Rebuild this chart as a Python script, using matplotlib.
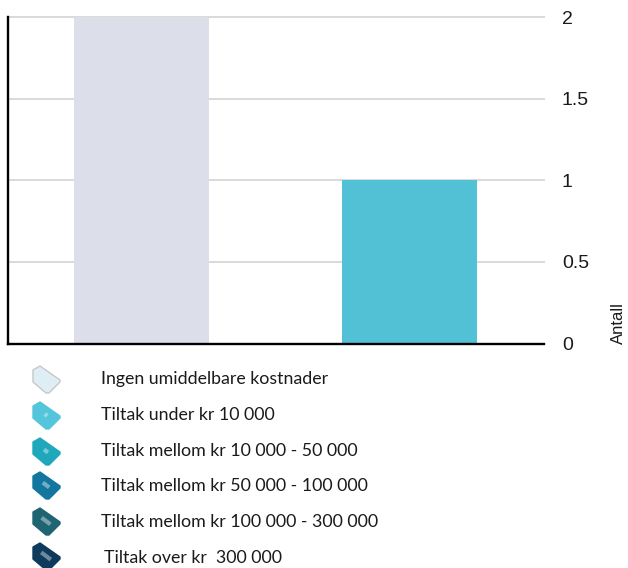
import matplotlib
matplotlib.use("Agg")
import matplotlib.pyplot as plt
from matplotlib.patches import Polygon
from matplotlib.lines import Line2D

# Chart data
categories = ["Ingen umiddelbare kostnader", "Tiltak under kr 10 000"]
counts = [2, 1]
bar_colors = ["#dcdeea", "#52c1d6"]
y_ticks = [0, 0.5, 1, 1.5, 2]
y_tick_labels = ["0", "0.5", "1", "1.5", "2"]
y_label = "Antall"

# Legend content
legend_labels = [
    "Ingen umiddelbare kostnader",
    "Tiltak under kr 10 000",
    "Tiltak mellom kr 10 000 - 50 000",
    "Tiltak mellom kr 50 000 - 100 000",
    "Tiltak mellom kr 100 000 - 300 000",
    "Tiltak over kr  300 000",
]
legend_colors = ["#dfeef4", "#55c5dc", "#1fa8bb", "#13769f", "#1f6473", "#0e3a5c"]
legend_edges = ["#c4c8ca", "#55c5dc", "#1fa8bb", "#13769f", "#1f6473", "#0e3a5c"]
legend_mark_len = [0, 3, 5, 8, 11, 12]

W, H = 628, 568
fig = plt.figure(figsize=(W / 100, H / 100), dpi=100, facecolor="white")
ax = fig.add_axes([8 / W, 1 - 343.5 / H, 536 / W, 326.5 / H])

ax.bar(range(len(categories)), counts, width=0.504, color=bar_colors, zorder=2)
ax.set_xlim(-0.498, 1.502)
ax.set_ylim(0, 2)
ax.set_xticks([])
ax.set_yticks(y_ticks)
ax.set_yticklabels(y_tick_labels, family="Liberation Sans", fontsize=14, color="#1a1a1a")
ax.yaxis.tick_right()
ax.tick_params(axis="y", length=0, pad=12.8)
ax.grid(axis="y", color="#d9d9d9", linewidth=1.4, zorder=1)
for gridline in ax.get_ygridlines():
    gridline.set_clip_on(False)
ax.set_axisbelow(True)

for side in ("top", "right"):
    ax.spines[side].set_visible(False)
for side in ("left", "bottom"):
    ax.spines[side].set_color("black")
    ax.spines[side].set_linewidth(1.7)
    ax.spines[side].set_zorder(3)

fig.text(618.5 / W, 1 - 344 / H, y_label, rotation=90, ha="center", va="bottom",
         family="Liberation Sans", fontsize=12, color="#1a1a1a")


def px(x, y):
    return x / W, 1 - y / H


# Tag-shaped legend keys with the text beside them
tag_outline = [(-13, -9), (-6, -13), (14, 1), (14, 3), (3, 14), (0, 14), (-13, 3)]
icon_y = [379, 415, 451, 485, 521, 556]
text_y = [379, 415, 451, 486, 522, 558]
label_x = [101, 101, 101, 101, 101, 104]
for label, fc, ec, mark, iy, ty_px, lx in zip(legend_labels, legend_colors, legend_edges,
                                              legend_mark_len, icon_y, text_y, label_x):
    pts = [px(46 + dx, iy + dy) for dx, dy in tag_outline]
    fig.add_artist(Polygon(pts, closed=True, facecolor=fc, edgecolor=ec, linewidth=1.0,
                           joinstyle="round", transform=fig.transFigure))
    if mark:
        half = mark / 2
        x0, y0 = px(46 - half * 0.8, iy - half * 0.6)
        x1, y1 = px(46 + half * 0.8, iy + half * 0.6)
        fig.add_artist(Line2D([x0, x1], [y0, y1], color="white", alpha=0.4, linewidth=3,
                              solid_capstyle="butt", transform=fig.transFigure))
    tx, ty = px(lx, ty_px)
    fig.text(tx, ty, label, ha="left", va="center", family="Lato", fontsize=12.75,
             color="#1a1a1a")

fig.savefig("out.png", dpi=100, facecolor="white")
